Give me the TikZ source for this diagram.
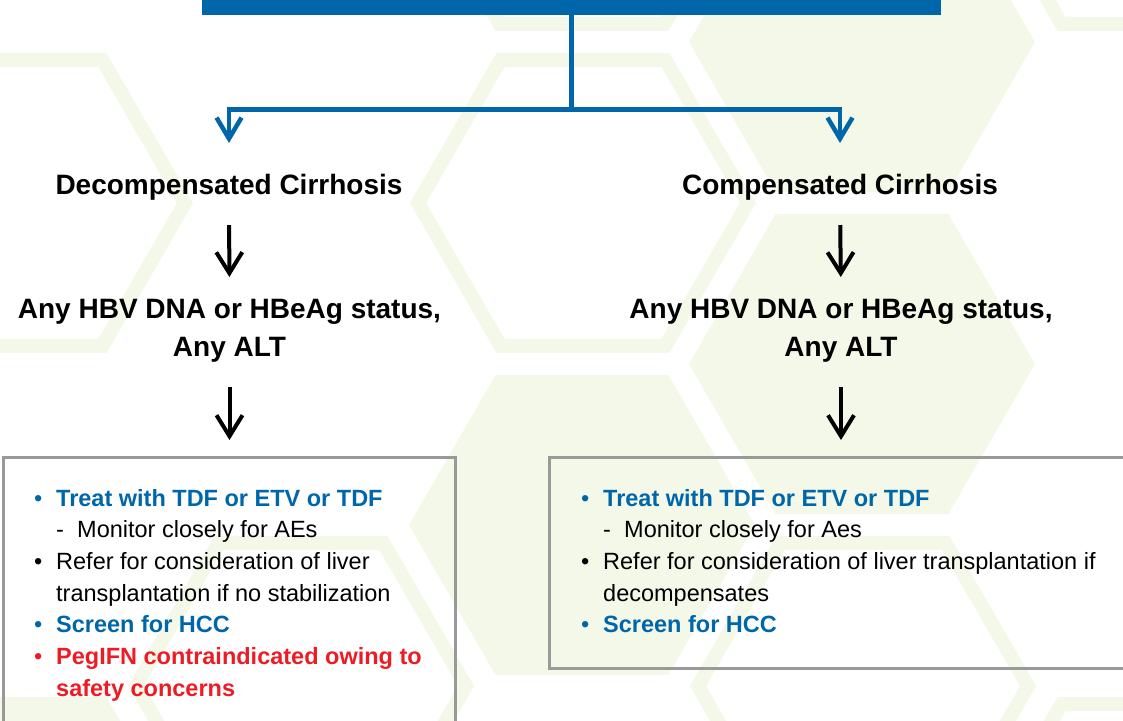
\documentclass[tikz,border=0pt]{standalone}
\usepackage{fontspec}
\setmainfont{Liberation Sans}
\usetikzlibrary{arrows.meta}
\definecolor{hbblue}{RGB}{0,102,170}
\definecolor{hbred}{RGB}{237,28,36}
\definecolor{hbgray}{RGB}{153,153,153}
\definecolor{hexgreen}{RGB}{244,248,233}
\newcommand{\hexF}[2]{\fill[hexgreen] (#1,#2) +(0:173) -- +(60:173) -- +(120:173) -- +(180:173) -- +(240:173) -- +(300:173) -- cycle;}
\newcommand{\hexO}[2]{\draw[hexgreen, line width=14pt, line join=miter] (#1,#2) +(0:165) -- +(60:165) -- +(120:165) -- +(180:165) -- +(240:165) -- +(300:165) -- cycle;}
\newcommand{\bul}{\makebox[22pt][l]{\mdseries •}}
\begin{document}
\begin{tikzpicture}[x=1pt,y=-1pt,
  blueline/.style={draw=hbblue, line width=4.5pt},
  bluearrow/.style={blueline, -{Straight Barb[length=21pt,width=25pt]}},
  blackarrow/.style={draw=black, line width=4pt, -{Straight Barb[length=21pt,width=26pt]}},
  head/.style={font=\fontsize{28}{38}\selectfont\bfseries, inner sep=0pt, align=center},
  boxstyle/.style={draw=hbgray, line width=3pt, inner sep=0pt, outer sep=0pt, anchor=north west},
  itemline/.style={font=\fontsize{23.5}{31.7}\selectfont, inner sep=0pt, anchor=base west},
  bar/.style={fill=hbblue, inner sep=0pt, outer sep=0pt, anchor=north west}
]
\useasboundingbox (0,0) rectangle (1123,720);
\clip (0,0) rectangle (1123,720);
% background honeycomb
\hexO{20}{203}
\hexO{583}{203}
\hexO{301}{686}
\hexO{863}{686}
\hexO{1144}{-119}
\hexO{582}{-119}
\hexO{1144}{847}
\hexF{862}{42}
\hexF{862}{364}
\hexF{582}{525}
\hexF{20}{847}

% top bar
\node[bar, minimum width=739pt, minimum height=15pt] (top) at (202,0) {};
\coordinate (split) at (571.5,109.5);

% headings
\node[head, anchor=base] (dec) at (229,194) {Decompensated Cirrhosis};
\node[head, anchor=base] (comp) at (840,194) {Compensated Cirrhosis};
\node[head, anchor=north] (hbvL) at (229.5,299) {Any HBV DNA or HBeAg status,\\Any ALT};
\node[head, anchor=north] (hbvR) at (841,299) {Any HBV DNA or HBeAg status,\\Any ALT};

% boxes
\node[boxstyle, minimum width=452.5pt, minimum height=320pt] (boxL) at (3,457) {};
\node[boxstyle, minimum width=600pt, minimum height=211pt] (boxR) at (549,457) {};

% blue connectors
\draw[blueline] (top.south) -- (split);
\draw[bluearrow, shorten >=30.5pt] (split) -| (dec.north);
\draw[bluearrow, shorten >=30.5pt] (split) -| (comp.north);

% black arrows
\draw[blackarrow, shorten <=25pt, shorten >=22pt] (dec.south) -- (hbvL.north);
\draw[blackarrow, shorten <=25pt, shorten >=22pt] (comp.south) -- (hbvR.north);
\draw[blackarrow, shorten <=25pt, shorten >=17pt] (hbvL.south) -- (hbvL.south |- boxL.north);
\draw[blackarrow, shorten <=25pt, shorten >=17pt] (hbvR.south) -- (hbvR.south |- boxR.north);

% left box text
\node[itemline] (L1) at (34,506) {\color{hbblue}\bfseries\bul Treat with TDF or ETV or TDF};
\node[itemline] (L2) at (34,537.7) {\hspace*{22pt}\makebox[21pt][l]{-}Monitor closely for AEs};
\node[itemline] (L3) at (34,569.4) {\bul Refer for consideration of liver};
\node[itemline] (L4) at (34,601.1) {\hspace*{22pt}transplantation if no stabilization};
\node[itemline] (L5) at (34,632.8) {\color{hbblue}\bfseries\bul Screen for HCC};
\node[itemline] (L6) at (34,664.5) {\color{hbred}\bfseries\bul PegIFN contraindicated owing to};
\node[itemline] (L7) at (34,696.2) {\color{hbred}\bfseries\hspace*{22pt}safety concerns};

% right box text
\node[itemline] (R1) at (581,506) {\color{hbblue}\bfseries\bul Treat with TDF or ETV or TDF};
\node[itemline] (R2) at (581,537.7) {\hspace*{22pt}\makebox[21pt][l]{-}Monitor closely for Aes};
\node[itemline] (R3) at (581,569.4) {\bul Refer for consideration of liver transplantation if};
\node[itemline] (R4) at (581,601.1) {\hspace*{22pt}decompensates};
\node[itemline] (R5) at (581,632.8) {\color{hbblue}\bfseries\bul Screen for HCC};
\end{tikzpicture}
\end{document}
